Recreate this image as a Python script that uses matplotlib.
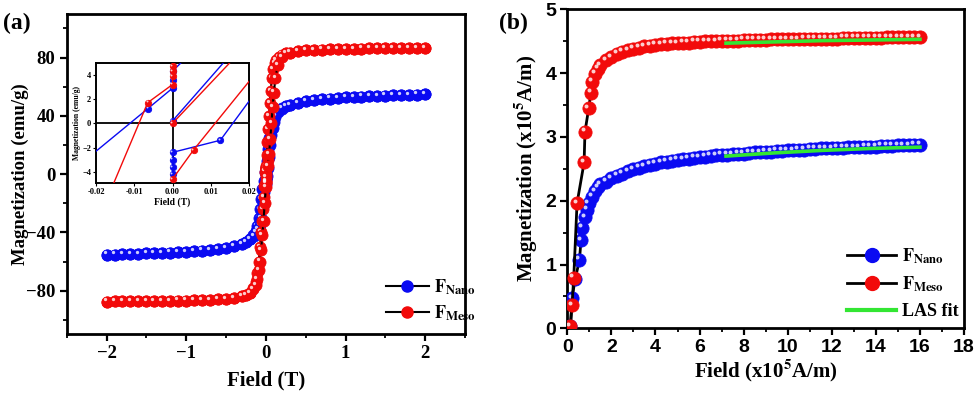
import matplotlib
matplotlib.use("Agg")
import matplotlib.pyplot as plt
from matplotlib.lines import Line2D
from matplotlib.ticker import MultipleLocator, FormatStrFormatter
from matplotlib.transforms import ScaledTranslation

plt.rcParams['font.family'] = 'Liberation Serif'
plt.rcParams['font.weight'] = 'bold'
plt.rcParams['mathtext.fontset'] = 'stix'

BLUE = '#0a0af2'
RED = '#f20a0a'
GREEN = '#33e633'

# ---------- (a) hysteresis loops, field in T, magnetization in emu/g ----------
# F_Nano, branch coming down from +2 T
H_nano_down = [2.0, 1.9, 1.8, 1.7, 1.6, 1.5, 1.4, 1.3, 1.2, 1.1, 1.0, 0.9, 0.8, 0.7, 0.6, 0.5, 0.4, 0.3,
               0.25, 0.2, 0.15, 0.12, 0.1, 0.08, 0.06, 0.045, 0.03, 0.015,
               0.0, 0.0, 0.0, -0.0065,
               -0.03, -0.045, -0.06, -0.075, -0.09, -0.11, -0.13, -0.16, -0.2, -0.25,
               -0.3, -0.4, -0.5, -0.6, -0.7, -0.8, -0.9, -1.0, -1.1, -1.2, -1.3, -1.4, -1.5, -1.6, -1.7, -1.8, -1.9, -2.0]
M_nano_down = [54.7, 54.6, 54.4, 54.3, 54.1, 53.9, 53.7, 53.5, 53.3, 53.0, 52.7, 52.3, 51.9, 51.4, 50.8, 50.0, 49.0, 47.5,
               46.5, 45.3, 43.5, 41.5, 39.5, 36.5, 31.0, 25.0, 17.0, 9.0,
               4.3, 3.6, 2.9, 1.2,
               -4.9, -10.0, -17.0, -24.0, -30.0, -35.5, -39.0, -42.0, -44.5, -46.5,
               -47.8, -49.5, -50.6, -51.4, -52.0, -52.5, -52.9, -53.3, -53.6, -53.9, -54.1, -54.3, -54.5, -54.7, -54.9, -55.0, -55.2, -55.3]
# F_Nano, branch going up from -2 T
H_nano_up = [-2.0, -1.9, -1.8, -1.7, -1.6, -1.5, -1.4, -1.3, -1.2, -1.1, -1.0, -0.9, -0.8, -0.7, -0.6, -0.5, -0.4, -0.3,
             -0.25, -0.2, -0.15, -0.12, -0.1, -0.08, -0.06, -0.04, -0.02,
             0.0, 0.0, 0.0, 0.0, 0.0,
             0.0125, 0.026, 0.04, 0.055, 0.07, 0.085, 0.1, 0.12, 0.15, 0.2, 0.25,
             0.3, 0.4, 0.5, 0.6, 0.7, 0.8, 0.9, 1.0, 1.1, 1.2, 1.3, 1.4, 1.5, 1.6, 1.7, 1.8, 1.9, 2.0]
M_nano_up = [-55.3, -55.2, -55.0, -54.9, -54.7, -54.5, -54.3, -54.1, -53.9, -53.6, -53.3, -52.9, -52.5, -52.0, -51.4, -50.6, -49.5, -47.8,
             -46.5, -44.8, -42.5, -40.0, -38.0, -35.0, -30.0, -22.0, -12.0,
             -6.5, -4.2, -3.6, -3.0, -2.4,
             -1.4, 4.4, 12.0, 20.0, 27.0, 32.0, 36.0, 39.5, 42.5, 45.0, 46.5,
             47.5, 49.0, 50.0, 50.8, 51.4, 51.9, 52.3, 52.7, 53.0, 53.3, 53.5, 53.7, 53.9, 54.1, 54.3, 54.4, 54.6, 54.7]
H_nano_virgin = [0.0, 0.03]
M_nano_virgin = [0.2, 11.0]

# F_Meso, branch coming down from +2 T
H_meso_down = [2.0, 1.9, 1.8, 1.7, 1.6, 1.5, 1.4, 1.3, 1.2, 1.1, 1.0, 0.9, 0.8, 0.7, 0.6, 0.5, 0.4, 0.3,
               0.25, 0.2, 0.16, 0.13, 0.11, 0.09, 0.075, 0.06, 0.05, 0.04, 0.03, 0.02, 0.01,
               0.0, 0.0, 0.0, 0.0, 0.0, -0.0065,
               -0.02, -0.03, -0.04, -0.05, -0.06, -0.075, -0.09, -0.11, -0.13, -0.16, -0.2, -0.25,
               -0.3, -0.4, -0.5, -0.6, -0.7, -0.8, -0.9, -1.0, -1.1, -1.2, -1.3, -1.4, -1.5, -1.6, -1.7, -1.8, -1.9, -2.0]
M_meso_down = [86.7, 86.7, 86.6, 86.6, 86.5, 86.5, 86.4, 86.3, 86.2, 86.1, 86.0, 85.9, 85.7, 85.5, 85.2, 84.9, 84.3, 83.5,
               83.0, 82.0, 80.5, 78.5, 76.0, 72.0, 66.0, 57.0, 49.0, 40.0, 31.0, 22.0, 13.0,
               5.5, 4.7, 4.3, 3.9, 3.2, 1.7,
               -8.4, -16.0, -24.0, -32.0, -40.0, -50.0, -60.0, -68.0, -74.0, -78.5, -81.5, -83.0,
               -84.0, -85.0, -85.6, -86.0, -86.3, -86.5, -86.7, -86.8, -86.9, -87.0, -87.1, -87.2, -87.2, -87.3, -87.3, -87.4, -87.4, -87.5]
# F_Meso, branch going up from -2 T
H_meso_up = [-2.0, -1.9, -1.8, -1.7, -1.6, -1.5, -1.4, -1.3, -1.2, -1.1, -1.0, -0.9, -0.8, -0.7, -0.6, -0.5, -0.4, -0.3,
             -0.25, -0.2, -0.16, -0.13, -0.11, -0.09, -0.075, -0.06, -0.045, -0.03, -0.015,
             0.0, 0.0, 0.0, 0.0,
             0.0055, 0.025, 0.04, 0.055, 0.07, 0.085, 0.1, 0.12, 0.15, 0.2, 0.25,
             0.3, 0.4, 0.5, 0.6, 0.7, 0.8, 0.9, 1.0, 1.1, 1.2, 1.3, 1.4, 1.5, 1.6, 1.7, 1.8, 1.9, 2.0]
M_meso_up = [-87.5, -87.4, -87.4, -87.3, -87.3, -87.2, -87.2, -87.1, -87.0, -86.9, -86.8, -86.7, -86.5, -86.3, -86.0, -85.6, -85.0, -84.0,
             -83.0, -81.5, -79.0, -76.0, -72.0, -66.0, -60.0, -52.0, -42.0, -32.0, -20.0,
             -9.0, -6.0, -5.3, -4.6,
             -2.2, 5.4, 14.0, 24.0, 35.0, 46.0, 56.0, 66.0, 75.0, 80.5, 83.0,
             83.5, 84.3, 84.9, 85.2, 85.5, 85.7, 85.9, 86.0, 86.1, 86.2, 86.3, 86.4, 86.5, 86.5, 86.6, 86.6, 86.7, 86.7]
H_meso_virgin = [0.0, 0.03]
M_meso_virgin = [0.0, 10.0]

# ---------- (b) initial curves, field and magnetization in 1e5 A/m ----------
H_nano_low = [0.14, 0.21, 0.36, 0.55, 0.62, 0.66, 0.82, 0.89, 0.97, 1.12, 1.27, 1.38]
M_nano_low = [0.03, 0.47, 0.78, 1.07, 1.38, 1.58, 1.74, 1.86, 1.96, 2.06, 2.15, 2.21]
H_meso_low = [0.14, 0.21, 0.29, 0.44, 0.76, 0.80, 0.97, 1.07, 1.14, 1.27, 1.38]
M_meso_low = [0.03, 0.36, 0.79, 1.96, 2.60, 3.08, 3.45, 3.69, 3.86, 3.99, 4.07]

H_high = [1.5, 1.75, 2.0, 2.25, 2.5, 2.75, 3.0, 3.25, 3.5, 3.75, 4.0, 4.25, 4.5, 4.75, 5.0, 5.25, 5.5, 5.75,
          6.0, 6.25, 6.5, 6.75, 7.0, 7.25, 7.5, 7.75, 8.0, 8.25, 8.5, 8.75, 9.0, 9.25, 9.5, 9.75, 10.0, 10.25,
          10.5, 10.75, 11.0, 11.25, 11.5, 11.75, 12.0, 12.25, 12.5, 12.75, 13.0, 13.25, 13.5, 13.75, 14.0, 14.25,
          14.5, 14.75, 15.0, 15.25, 15.5, 15.75, 16.0]
M_nano_high = [2.26, 2.30, 2.35, 2.39, 2.42, 2.46, 2.49, 2.52, 2.54, 2.56, 2.58, 2.60, 2.61, 2.63, 2.64, 2.65, 2.66, 2.67,
               2.68, 2.69, 2.70, 2.71, 2.72, 2.72, 2.73, 2.74, 2.74, 2.75, 2.76, 2.76, 2.77, 2.77, 2.78, 2.78, 2.79, 2.79,
               2.80, 2.80, 2.81, 2.81, 2.82, 2.82, 2.82, 2.83, 2.83, 2.84, 2.84, 2.84, 2.85, 2.85, 2.85, 2.86,
               2.86, 2.86, 2.87, 2.87, 2.87, 2.88, 2.88]
M_meso_high = [4.12, 4.20, 4.25, 4.30, 4.33, 4.36, 4.38, 4.40, 4.42, 4.43, 4.44, 4.45, 4.46, 4.47, 4.47, 4.48, 4.48, 4.49,
               4.49, 4.50, 4.50, 4.50, 4.51, 4.51, 4.51, 4.51, 4.52, 4.52, 4.52, 4.52, 4.52, 4.53, 4.53, 4.53, 4.53, 4.53,
               4.53, 4.54, 4.54, 4.54, 4.54, 4.54, 4.54, 4.54, 4.55, 4.55, 4.55, 4.55, 4.55, 4.55, 4.55, 4.55,
               4.56, 4.56, 4.56, 4.56, 4.56, 4.56, 4.56]

# LAS fits
H_fit = [7.2, 9.4, 11.6, 13.8, 16.0]
M_fit_nano = [2.70, 2.75, 2.79, 2.82, 2.84]
M_fit_meso = [4.47, 4.49, 4.51, 4.52, 4.53]


def balls(ax, x, y, color, ms, line_color='k', lw=1.5, zorder=3):
    # coloured ball markers with a small white highlight, like Origin's sphere symbol
    ax.plot(x, y, '-', color=line_color, lw=lw, zorder=zorder)
    ax.plot(x, y, 'o', ls='none', ms=ms, mfc=color, mec=color, mew=0.6, zorder=zorder)
    off = ScaledTranslation(-ms * 0.17 / 72, ms * 0.2 / 72, fig.dpi_scale_trans)
    ax.plot(x, y, 'o', ls='none', ms=ms * 0.3, mfc='white', mec='none', alpha=0.8,
            transform=ax.transData + off, zorder=zorder)


fig = plt.figure(figsize=(9.77, 3.98), dpi=100)

# ---------------- panel (a) ----------------
ax1 = fig.add_axes([0.0683, 0.160, 0.4077, 0.805])
for hx, my in [(H_nano_virgin, M_nano_virgin), (H_nano_down, M_nano_down), (H_nano_up, M_nano_up)]:
    balls(ax1, hx, my, BLUE, 8, zorder=3)
for hx, my in [(H_meso_virgin, M_meso_virgin), (H_meso_down, M_meso_down), (H_meso_up, M_meso_up)]:
    balls(ax1, hx, my, RED, 8, zorder=4)

ax1.set_xlim(-2.5, 2.5)
ax1.set_ylim(-110, 110)
ax1.xaxis.set_major_locator(MultipleLocator(1))
ax1.xaxis.set_minor_locator(MultipleLocator(0.5))
ax1.yaxis.set_major_locator(MultipleLocator(40))
ax1.yaxis.set_minor_locator(MultipleLocator(20))
ax1.set_xlabel('Field (T)', fontsize=15, fontweight='bold', labelpad=6)
ax1.set_ylabel('Magnetization (emu/g)', fontsize=13.5, fontweight='bold', labelpad=-2)

h_nano = Line2D([], [], color='k', lw=1.5, marker='o', ms=8, mfc=BLUE, mec=BLUE)
h_meso = Line2D([], [], color='k', lw=1.5, marker='o', ms=8, mfc=RED, mec=RED)
ax1.legend([h_nano, h_meso], [r'$\mathbf{F}_{\mathbf{Nano}}$', r'$\mathbf{F}_{\mathbf{Meso}}$'],
           loc='lower left', bbox_to_anchor=(0.76, -0.015), frameon=False, fontsize=13,
           handlelength=2.4, handletextpad=0.3, labelspacing=0.35)

# inset of panel (a)
axi = fig.add_axes([0.0983, 0.541, 0.1566, 0.3015])
axi.axhline(0, color='k', lw=1.3, zorder=1)
axi.axvline(0, color='k', lw=1.3, zorder=1)
for hx, my in [(H_nano_virgin, M_nano_virgin), (H_nano_down, M_nano_down), (H_nano_up, M_nano_up)]:
    balls(axi, hx, my, BLUE, 4.6, line_color=BLUE, lw=1.0, zorder=3)
for hx, my in [(H_meso_virgin, M_meso_virgin), (H_meso_down, M_meso_down), (H_meso_up, M_meso_up)]:
    balls(axi, hx, my, RED, 4.6, line_color=RED, lw=1.0, zorder=4)
axi.set_xlim(-0.02, 0.02)
axi.set_ylim(-4.9, 5.0)
axi.set_xticks([-0.02, -0.01, 0.0, 0.01, 0.02])
axi.set_yticks([-4, -2, 0, 2, 4])
axi.xaxis.set_major_formatter(FormatStrFormatter('%.2f'))
axi.tick_params(labelsize=6, length=2, width=0.8, pad=1.5)
axi.set_xlabel('Field (T)', fontsize=7, fontweight='bold', labelpad=1)
axi.set_ylabel('Magnetization (emu/g)', fontsize=5.5, fontweight='bold', labelpad=1)
for s in axi.spines.values():
    s.set_linewidth(1.4)

# ---------------- panel (b) ----------------
ax2 = fig.add_axes([0.5807, 0.175, 0.406, 0.8015])
balls(ax2, H_nano_low + H_high, M_nano_low + M_nano_high, BLUE, 9.5, lw=2.0, zorder=3)
balls(ax2, H_meso_low + H_high, M_meso_low + M_meso_high, RED, 9.5, lw=2.0, zorder=4)
ax2.plot(H_fit, M_fit_nano, color=GREEN, lw=2.6, zorder=5)
ax2.plot(H_fit, M_fit_meso, color=GREEN, lw=2.6, zorder=5)

ax2.set_xlim(0, 18)
ax2.set_ylim(0, 5)
ax2.xaxis.set_major_locator(MultipleLocator(2))
ax2.xaxis.set_minor_locator(MultipleLocator(1))
ax2.yaxis.set_major_locator(MultipleLocator(1))
ax2.yaxis.set_minor_locator(MultipleLocator(0.5))
ax2.set_xlabel(r'Field (x10$^{\mathbf{5}}$A/m)', fontsize=15, fontweight='bold', labelpad=1)
ax2.set_ylabel(r'Magnetization (x10$^{\mathbf{5}}$A/m)', fontsize=15, fontweight='bold', labelpad=4)

h_nano2 = Line2D([], [], color='k', lw=2.0, marker='o', ms=10, mfc=BLUE, mec=BLUE)
h_meso2 = Line2D([], [], color='k', lw=2.0, marker='o', ms=10, mfc=RED, mec=RED)
h_fit = Line2D([], [], color=GREEN, lw=3)
ax2.legend([h_nano2, h_meso2, h_fit],
           [r'$\mathbf{F}_{\mathbf{Nano}}$', r'$\mathbf{F}_{\mathbf{Meso}}$', 'LAS fit'],
           loc='lower left', bbox_to_anchor=(0.665, -0.025), frameon=False, fontsize=13,
           handlelength=2.7, handletextpad=0.3, labelspacing=0.5)

for ax, tsize, tfam in [(ax1, 13.5, 'Liberation Serif'), (ax2, 14, 'Liberation Sans')]:
    for s in ax.spines.values():
        s.set_linewidth(2.0)
    ax.tick_params(which='major', direction='out', length=5, width=1.6, labelsize=tsize, pad=3)
    ax.tick_params(which='minor', direction='out', length=3, width=1.3)
    for lab in ax.get_xticklabels() + ax.get_yticklabels():
        lab.set_fontweight('bold')
        lab.set_family(tfam)

fig.text(0.003, 0.94, '(a)', fontsize=17, fontweight='bold', va='center', ha='left')
fig.text(0.511, 0.94, '(b)', fontsize=17, fontweight='bold', va='center', ha='left')

fig.savefig('out.png', dpi=100)
